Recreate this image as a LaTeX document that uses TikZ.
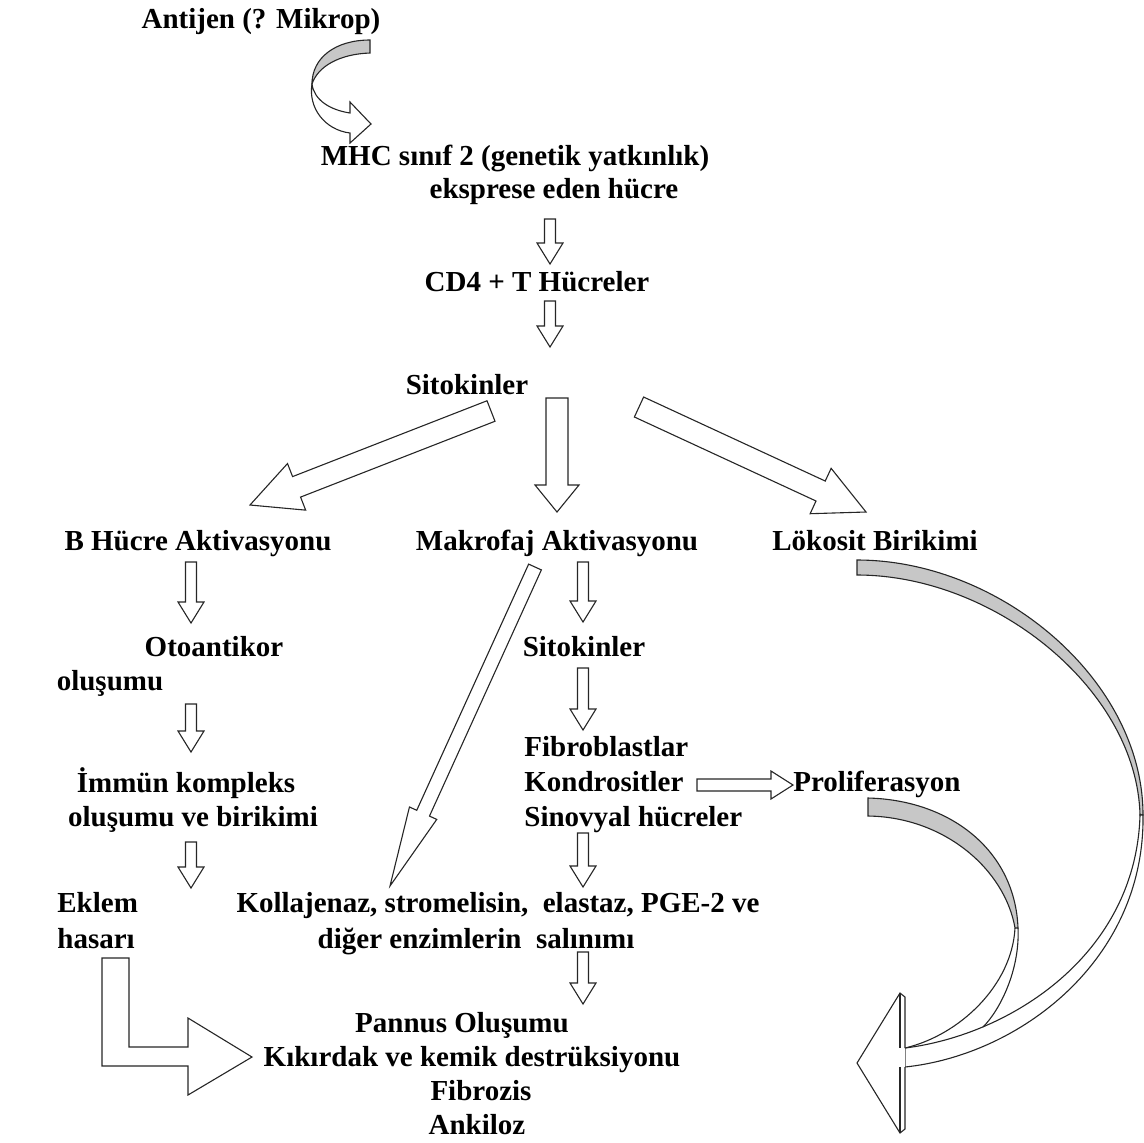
\documentclass[tikz,border=0pt]{standalone}
\usepackage{fontspec}
\setmainfont{Liberation Serif}
\usetikzlibrary{calc}
\tikzset{
  lbl/.style={font=\fontsize{14.5}{17.5}\selectfont\bfseries, inner sep=0pt, anchor=base},
  blk/.style={draw=black!85, line width=0.55pt, fill=white, line join=miter},
  rib/.style={draw=black!85, line width=0.55pt, fill=black!22},
  edge/.style={draw=black!85, line width=0.55pt},
}
\newcommand{\barrow}[5]{%
  \coordinate (hb) at ($(#2)!#5!(#1)$);
  \draw[blk] ($(#1)!#3!90:(#2)$) -- ($(hb)!#3!90:(#2)$) -- ($(hb)!#4!90:(#2)$) -- (#2)
    -- ($(hb)!#4!-90:(#2)$) -- ($(hb)!#3!-90:(#2)$) -- ($(#1)!#3!-90:(#2)$) -- cycle;
}
\begin{document}
\begin{tikzpicture}[x=0.5pt,y=-0.5pt]
\useasboundingbox (0,0) rectangle (1144,1142);
% ---------- texts ----------
\node[lbl] (ant) at (261,28) {Antijen (? Mikrop)};
\node[lbl] (mhc) at (515,165) {MHC sınıf 2 (genetik yatkınlık)};
\node[lbl] (eks) at (554,198) {eksprese eden hücre};
\node[lbl] (cd4) at (537,291) {CD4 + T Hücreler};
\node[lbl] (sit1) at (467,394) {Sitokinler};
\node[lbl] (bh) at (198,550) {B Hücre Aktivasyonu};
\node[lbl] (mak) at (557,550) {Makrofaj Aktivasyonu};
\node[lbl] (lok) at (875,550) {Lökosit Birikimi};
\node[lbl] (oto) at (214,656) {Otoantikor};
\node[lbl] (olu) at (110,690) {oluşumu};
\node[lbl] (sit2) at (584,656) {Sitokinler};
\node[lbl] (imm) at (186,792) {İmmün kompleks};
\node[lbl] (olu2) at (193,826) {oluşumu ve birikimi};
\node[lbl, anchor=base west] (fib) at (524,756) {Fibroblastlar};
\node[lbl, anchor=base west] (kon) at (524,791) {Kondrositler};
\node[lbl, anchor=base west] (sin) at (524,826) {Sinovyal hücreler};
\node[lbl, anchor=base west] (pro) at (793,791) {Proliferasyon};
\node[lbl, anchor=base west] (ekl) at (57,912) {Eklem};
\node[lbl, anchor=base west] (has) at (57,948) {hasarı};
\node[lbl] (kol) at (498,912) {Kollajenaz, stromelisin,\ \ elastaz, PGE-2 ve};
\node[lbl] (dig) at (476,948) {diğer enzimlerin\ \ salınımı};
\node[lbl] (pan) at (462,1032) {Pannus Oluşumu};
\node[lbl] (kik) at (472,1066) {Kıkırdak ve kemik destrüksiyonu};
\node[lbl] (fbz) at (481,1100) {Fibrozis};
\node[lbl] (ank) at (477,1134) {Ankiloz};
% ---------- small vertical arrows ----------
\coordinate (a1) at (550,219); \coordinate (a2) at (550,264);
\barrow{a1}{a2}{2.75pt}{6.5pt}{10.5pt}
\coordinate (b1) at (550,301); \coordinate (b2) at (550,347);
\barrow{b1}{b2}{2.75pt}{6.5pt}{10.5pt}
\coordinate (c1) at (191,562); \coordinate (c2) at (191,623);
\barrow{c1}{c2}{2.75pt}{6.5pt}{10.5pt}
\coordinate (d1) at (191,704); \coordinate (d2) at (191,752);
\barrow{d1}{d2}{2.75pt}{6.5pt}{10.5pt}
\coordinate (e1) at (191,842); \coordinate (e2) at (191,888);
\barrow{e1}{e2}{2.75pt}{6.5pt}{10.5pt}
\coordinate (f1) at (583,562); \coordinate (f2) at (583,622);
\barrow{f1}{f2}{2.75pt}{6.5pt}{10.5pt}
\coordinate (g1) at (583,668); \coordinate (g2) at (583,730);
\barrow{g1}{g2}{2.75pt}{6.5pt}{10.5pt}
\coordinate (h1) at (583,833); \coordinate (h2) at (583,887);
\barrow{h1}{h2}{2.75pt}{6.5pt}{10.5pt}
\coordinate (i1) at (583,952); \coordinate (i2) at (583,1004);
\barrow{i1}{i2}{2.75pt}{6.5pt}{10.5pt}
% horizontal Kondrositler -> Proliferasyon
\coordinate (k1) at (697,785); \coordinate (k2) at (793,785);
\barrow{k1}{k2}{3pt}{7pt}{11pt}
% ---------- big arrows from Sitokinler ----------
\coordinate (L1) at (491,411); \coordinate (L2) at (250,505);
\barrow{L1}{L2}{5.5pt}{12.5pt}{25pt}
\coordinate (M1) at (557,398); \coordinate (M2) at (557,512);
\barrow{M1}{M2}{5.5pt}{11pt}{13.5pt}
\coordinate (R1) at (639,407); \coordinate (R2) at (866,512);
\barrow{R1}{R2}{5.5pt}{12.5pt}{25pt}
% long diagonal Makrofaj -> Kollajenaz
\coordinate (D1) at (535,567); \coordinate (D2) at (390,886);
\barrow{D1}{D2}{3.5pt}{7.5pt}{40pt}
% ---------- elbow arrow ----------
\draw[blk] (102,958) -- (129,958) -- (129,1047) -- (188,1047) -- (188,1018) -- (252,1057)
  -- (188,1095) -- (188,1066) -- (102,1066) -- cycle;
% ---------- top curved arrow ----------
\draw[rib] (370,40) .. controls (335,40) and (312,58) .. (312,84)
  .. controls (318,66) and (340,54) .. (370,53) -- cycle;
\draw[blk] (312,84) .. controls (314,100) and (330,110) .. (350,113) -- (350,102) -- (371,124)
  -- (350,143) -- (350,133) .. controls (325,130) and (308,108) .. (312,84) -- cycle;
% ---------- right curved arrows ----------
\draw[rib] (857,560) .. controls (1000,560) and (1143,680) .. (1143,815)
  -- (1140,815) .. controls (1137,690) and (995,575) .. (857,575) -- cycle;
\draw[blk] (1143,815) .. controls (1145,960) and (1020,1055) .. (905,1067)
  -- (905,1048) .. controls (1010,1035) and (1136,955) .. (1140,815) -- cycle;
\draw[rib] (868,798) .. controls (950,800) and (1015,850) .. (1018,928)
  -- (1015,928) .. controls (1005,870) and (945,817) .. (868,816) -- cycle;
\draw[edge] (1015,928) .. controls (1012,985) and (960,1035) .. (905,1048);
\draw[edge] (1018,928) .. controls (1020,970) and (1000,1010) .. (983,1027);
\draw[blk] (905,1048) -- (905,997) -- (900,993) -- (857,1063) -- (900,1133) -- (905,1129) -- (905,1067);
\draw[edge] (900,993) -- (900,1048);
\draw[edge] (900,1067) -- (900,1133);
\end{tikzpicture}
\end{document}
